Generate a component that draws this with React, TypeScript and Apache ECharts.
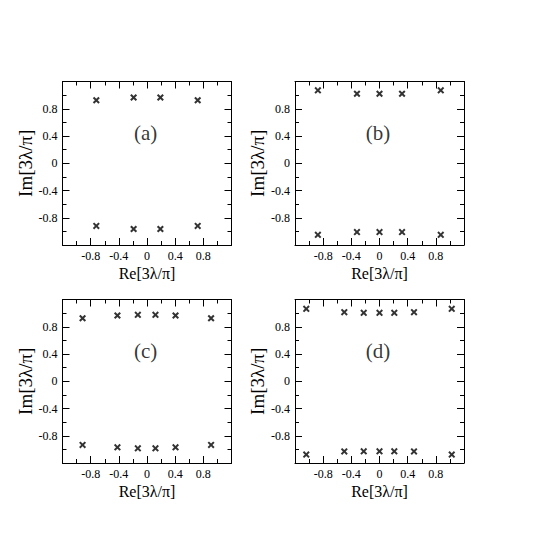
import React, { useEffect, useRef } from "react";
import * as echarts from "echarts";

// Panel (a)
const reA = [-0.72, -0.19, 0.19, 0.72];
const imTopA = [0.925, 0.965, 0.965, 0.925];
const imBotA = [-0.92, -0.965, -0.965, -0.92];
// Panel (b)
const reB = [-0.875, -0.32, 0, 0.32, 0.87];
const imTopB = [1.07, 1.02, 1.02, 1.02, 1.07];
const imBotB = [-1.05, -1.01, -1.01, -1.01, -1.05];
// Panel (c)
const reC = [-0.915, -0.42, -0.13, 0.12, 0.405, 0.91];
const imTopC = [0.925, 0.965, 0.975, 0.975, 0.965, 0.925];
const imBotC = [-0.934, -0.97, -0.984, -0.984, -0.97, -0.934];
// Panel (d)
const reD = [-1.04, -0.5, -0.224, 0, 0.21, 0.49, 1.026];
const imTopD = [1.063, 1.014, 1.005, 1.005, 1.005, 1.014, 1.063];
const imBotD = [-1.076, -1.03, -1.028, -1.028, -1.028, -1.03, -1.076];

const panelLabels = ["(a)", "(b)", "(c)", "(d)"];
const tickLabels = [-0.8, -0.4, 0, 0.4, 0.8];
const xTitle = "Re[3λ/π]";
const yTitle = "Im[3λ/π]";

const panels = [
  { re: reA, top: imTopA, bot: imBotA },
  { re: reB, top: imTopB, bot: imBotB },
  { re: reC, top: imTopC, bot: imBotC },
  { re: reD, top: imTopD, bot: imBotD },
];

const FONT = "Liberation Serif";
const CROSS =
  "path://M0,2L2,0L5,3L8,0L10,2L7,5L10,8L8,10L5,7L2,10L0,8L3,5Z";

export default function App() {
  const ref = useRef<HTMLDivElement>(null);
  useEffect(() => {
    if (!ref.current) return;
    const chart = echarts.init(ref.current, undefined, { renderer: "svg" });
    const gridPos = [
      { left: 62.5, top: 81.5 },
      { left: 295, top: 81.5 },
      { left: 62.5, top: 299.5 },
      { left: 295, top: 299.5 },
    ];
    const grids = gridPos.map((g) => ({
      left: g.left,
      top: g.top,
      width: 169,
      height: 163.5,
      containLabel: false,
    }));
    const fmt = (v: number) => {
      const hit = tickLabels.find((t) => Math.abs(t - v) < 1e-6);
      return hit === undefined ? "" : String(hit);
    };
    const lineStyle = { color: "#000", width: 1 };
    const common = (i: number) => ({
      type: "value",
      gridIndex: i,
      min: -1.2,
      max: 1.2,
      interval: 0.4,
      axisLine: { show: true, onZero: false, lineStyle },
      axisTick: { show: true, inside: true, length: 7, lineStyle },
      minorTick: { show: true, splitNumber: 2, length: 4, lineStyle },
      splitLine: { show: false },
      minorSplitLine: { show: false },
    });
    const xAxes: any[] = [];
    const yAxes: any[] = [];
    panels.forEach((_, i) => {
      xAxes.push({
        ...common(i),
        position: "bottom",
        axisLabel: {
          formatter: fmt,
          margin: 5,
          color: "#000",
          fontFamily: FONT,
          fontSize: 12,
        },
        name: xTitle,
        nameLocation: "middle",
        nameGap: 20,
        nameTextStyle: { color: "#000", fontFamily: FONT, fontSize: 16 },
      });
      xAxes.push({
        ...common(i),
        position: "top",
        axisLabel: { show: false },
      });
      yAxes.push({
        ...common(i),
        position: "left",
        axisLabel: {
          formatter: fmt,
          margin: 5,
          color: "#000",
          fontFamily: FONT,
          fontSize: 12,
        },
        name: yTitle,
        nameLocation: "middle",
        nameRotate: 90,
        nameGap: 23,
        nameTextStyle: { color: "#000", fontFamily: FONT, fontSize: 19 },
      });
      yAxes.push({
        ...common(i),
        position: "right",
        axisLabel: { show: false },
      });
    });
    const series: any[] = [];
    panels.forEach((p, i) => {
      const data: number[][] = [];
      p.re.forEach((x, k) => {
        data.push([x, p.top[k]]);
        data.push([x, p.bot[k]]);
      });
      series.push({
        type: "scatter",
        xAxisIndex: i * 2,
        yAxisIndex: i * 2,
        symbol: CROSS,
        symbolSize: 7,
        itemStyle: { color: "#000" },
        data,
        silent: true,
      });
      series.push({
        type: "scatter",
        xAxisIndex: i * 2,
        yAxisIndex: i * 2,
        symbol: "circle",
        symbolSize: 1,
        itemStyle: { color: "rgba(0,0,0,0)" },
        data: [[-0.02, 0.44]],
        label: {
          show: true,
          position: "inside",
          formatter: panelLabels[i],
          color: "#000",
          textBorderWidth: 0,
          fontFamily: FONT,
          fontSize: 21,
        },
        silent: true,
      });
    });
    chart.setOption({
      animation: false,
      backgroundColor: "#fff",
      grid: grids,
      xAxis: xAxes,
      yAxis: yAxes,
      series,
    });
    return () => chart.dispose();
  }, []);
  return (
    <div
      ref={ref}
      style={{ position: "fixed", left: 0, top: 0, width: 545, height: 545 }}
    />
  );
}
